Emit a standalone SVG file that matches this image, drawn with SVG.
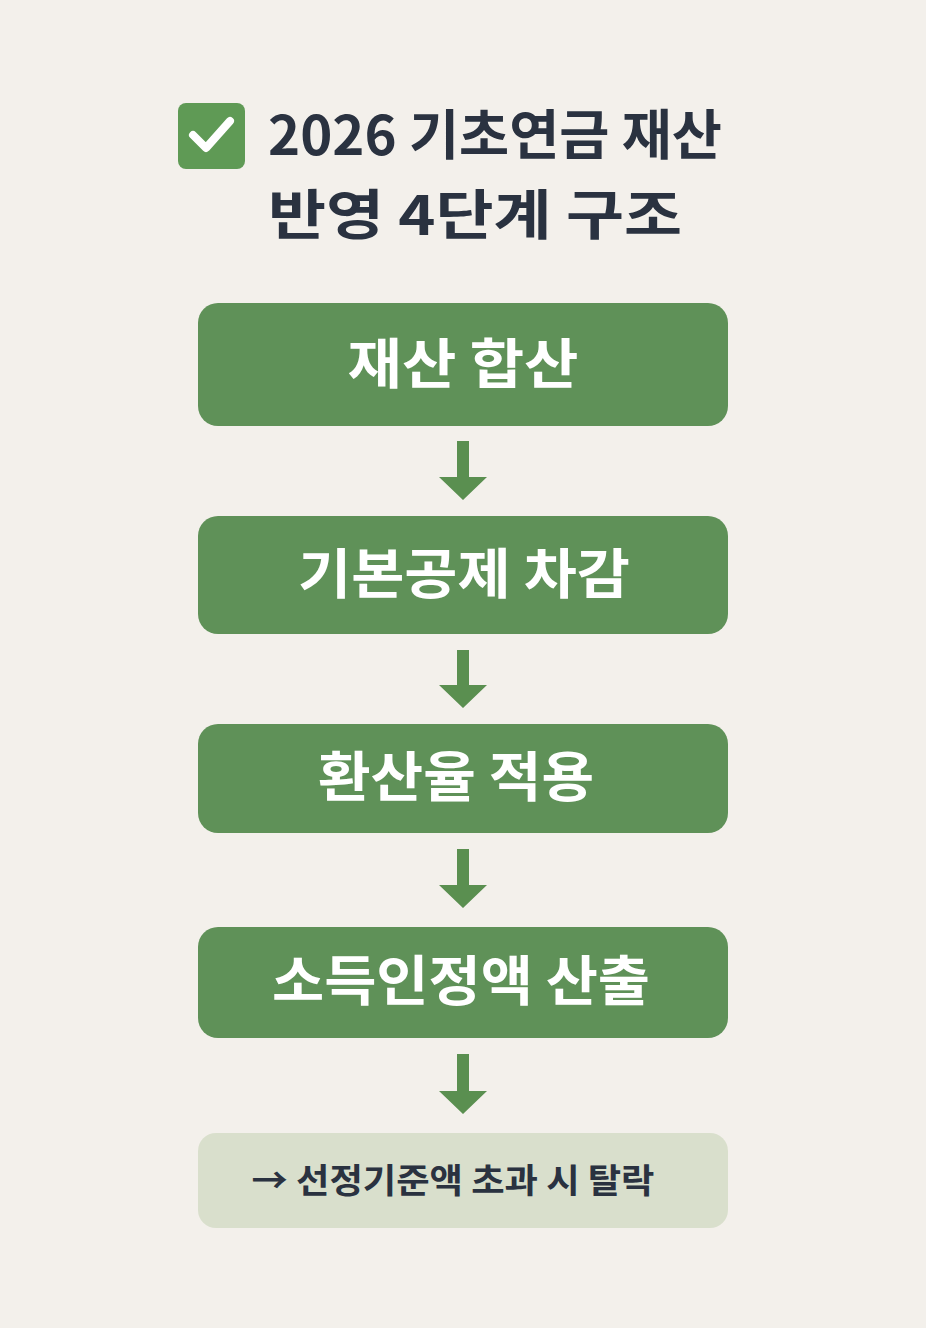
<svg xmlns="http://www.w3.org/2000/svg" width="926" height="1328" viewBox="0 0 926 1328">
<style>
.t{font-family:"Noto Sans CJK KR","Noto Sans",sans-serif;font-weight:700}
.title{fill:#2a3240;font-size:54px}
.box{fill:#5f9158}
.bt{fill:#ffffff;font-size:54px;text-anchor:middle}
.arr{fill:#5a8f50}
</style>
<rect width="926" height="1328" fill="#f3f0eb"/>
<g id="title">
<rect x="178" y="103" width="67" height="66" rx="8" fill="#5f9a55"/>
<path d="M193 135 L206 148 L230 121" fill="none" stroke="#fff" stroke-width="8" stroke-linecap="round" stroke-linejoin="round"/>
<text class="t title" x="268" y="155" textLength="454" lengthAdjust="spacingAndGlyphs">2026 기초연금 재산</text>
<text class="t title" x="268" y="235" textLength="414" lengthAdjust="spacingAndGlyphs">반영 4단계 구조</text>
</g>
<g id="n1"><rect class="box" x="198" y="303" width="530" height="123" rx="20"/><text class="t bt" x="463" y="384" textLength="231" lengthAdjust="spacingAndGlyphs">재산 합산</text></g>
<g id="n2"><rect class="box" x="198" y="516" width="530" height="118" rx="20"/><text class="t bt" x="464" y="594" textLength="332" lengthAdjust="spacingAndGlyphs">기본공제 차감</text></g>
<g id="n3"><rect class="box" x="198" y="724" width="530" height="109" rx="20"/><text class="t bt" x="456" y="797" textLength="276" lengthAdjust="spacingAndGlyphs">환산율 적용</text></g>
<g id="n4"><rect class="box" x="198" y="927" width="530" height="111" rx="20"/><text class="t bt" x="461" y="1001" textLength="378" lengthAdjust="spacingAndGlyphs">소득인정액 산출</text></g>
<g id="n5"><rect x="198" y="1133" width="530" height="95" rx="18" fill="#d9dfcc"/><text class="t" x="453" y="1193" text-anchor="middle" font-size="34" fill="#2a3240" textLength="403" lengthAdjust="spacingAndGlyphs">→ 선정기준액 초과 시 탈락</text></g>
<g id="connectors">
<path class="arr" d="M457 441 H469 V477 H487 L463 500 L439 477 H457 Z"/>
<path class="arr" d="M457 650 H469 V685 H487 L463 708 L439 685 H457 Z"/>
<path class="arr" d="M457 849 H469 V885 H487 L463 908 L439 885 H457 Z"/>
<path class="arr" d="M457 1054 H469 V1091 H487 L463 1114 L439 1091 H457 Z"/>
</g>
</svg>
